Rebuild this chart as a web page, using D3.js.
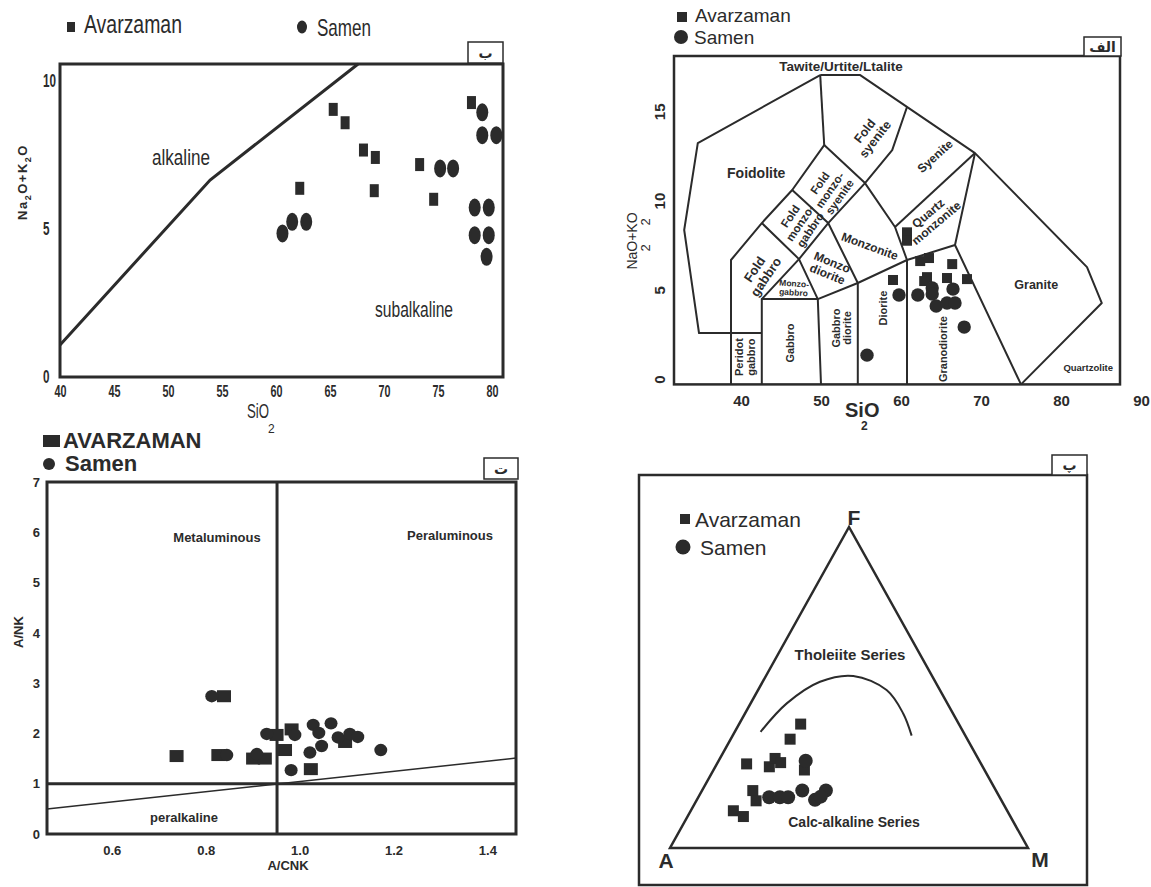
<!DOCTYPE html>
<html>
<head>
<meta charset="utf-8">
<script src="https://cdn.jsdelivr.net/npm/d3@7"></script>
<style>
  body { margin: 0; background: #fff; }
  svg { display: block; }
</style>
</head>
<body>
<div id="chart"></div>
<script>
// ---- (ب) Na2O+K2O vs SiO2, alkaline / subalkaline ----
const alkSiO2Ticks = [40, 45, 50, 55, 60, 65, 70, 75, 80];
const alkTotalTicks = [0, 5, 10];
const alkDivide = [[40, 1.08], [53.9, 6.64], [67.6, 10.55]];
const alkAvarzaman = [[65.3, 9.02], [66.4, 8.57], [68.1, 7.65], [69.2, 7.40], [69.1, 6.28],
  [62.2, 6.36], [73.3, 7.16], [74.6, 5.99], [78.1, 9.25]];
const alkSamen = [[60.6, 4.84], [61.5, 5.23], [62.8, 5.23], [75.2, 7.03], [76.4, 7.03],
  [79.1, 8.92], [79.1, 8.15], [80.4, 8.15], [78.4, 5.71], [79.7, 5.71],
  [78.4, 4.78], [79.7, 4.78], [79.5, 4.05]];

// ---- (الف) TAS plutonic (Middlemost) ----
const tasSiO2Ticks = [40, 50, 60, 70, 80, 90];
const tasTotalTicks = [0, 5, 10, 15];
// field boundaries, each one a polyline of [SiO2, Na2O+K2O]
const tasFields = [
  [[49.9, 17.03], [54.9, 17.03], [69.25, 12.66], [83.25, 6.27], [85.1, 4.26], [75.0, -0.3]],
  [[49.9, 17.03], [34.6, 13.22], [32.9, 8.35], [34.75, 2.58], [38.75, 2.58], [42.6, 2.58]],
  [[50.4, 13.11], [49.9, 17.03]],
  [[38.75, -0.3], [38.75, 2.58], [38.75, 6.67], [42.6, 8.74], [46.4, 10.59], [50.4, 13.11]],
  [[42.6, -0.3], [42.6, 2.58], [42.6, 4.48], [49.6, 4.48], [50.0, -0.3]],
  [[42.6, 8.74], [47.25, 6.72], [49.6, 4.48]],
  [[42.6, 4.48], [47.25, 6.72], [50.9, 8.74]],
  [[46.4, 10.59], [50.9, 8.74], [54.6, 5.38], [54.6, -0.3]],
  [[49.6, 4.48], [54.6, 5.38]],
  [[50.4, 13.11], [55.5, 10.98], [50.9, 8.74]],
  [[60.75, 15.24], [58.9, 12.83], [55.5, 10.98], [59.25, 8.52], [60.75, 6.67], [60.75, -0.3]],
  [[54.6, 5.38], [60.75, 6.67], [66.75, 7.51]],
  [[59.25, 8.52], [69.25, 12.66]],
  [[69.25, 12.66], [66.75, 7.51], [75.0, -0.3]]
];
const tasNames = [
  { lines: ["Tawite/Urtite/Ltalite"], at: [52.5, 17.53], angle: 0, size: 13.5 },
  { lines: ["Foidolite"], at: [41.9, 11.54], angle: 0, size: 14 },
  { lines: ["Fold", "syenite"], at: [56.1, 13.67], angle: -52, size: 12.5 },
  { lines: ["Syenite"], at: [64.25, 12.49], angle: -42, size: 12 },
  { lines: ["Fold", "monzo-", "syenite"], at: [51.1, 10.59], angle: -55, size: 11.5 },
  { lines: ["Fold", "monzo-", "gabbro"], at: [47.4, 8.74], angle: -56, size: 11.5 },
  { lines: ["Fold", "gabbro"], at: [42.4, 5.94], angle: -56, size: 13 },
  { lines: ["Monzo", "diorite"], at: [51.1, 6.22], angle: 22, size: 12 },
  { lines: ["Monzo-", "gabbro"], at: [46.6, 5.10], angle: 4, size: 8.5 },
  { lines: ["Monzonite"], at: [56.1, 7.45], angle: 20, size: 12 },
  { lines: ["Quartz", "monzonite"], at: [63.9, 9.02], angle: -40, size: 12 },
  { lines: ["Gabbro"], at: [46.1, 2.02], angle: -90, size: 11 },
  { lines: ["Peridot", "gabbro"], at: [40.5, 1.23], angle: -90, size: 11 },
  { lines: ["Gabbro", "diorite"], at: [52.6, 2.86], angle: -90, size: 11 },
  { lines: ["Diorite"], at: [57.75, 3.98], angle: -90, size: 11 },
  { lines: ["Granodiorite"], at: [65.25, 1.68], angle: -90, size: 11 },
  { lines: ["Granite"], at: [76.9, 5.27], angle: 0, size: 12.5 },
  { lines: ["Quartzolite"], at: [83.4, 0.62], angle: 0, size: 9.5 }
];
const tasAvarzaman = [[60.75, 8.22], [60.75, 7.75], [62.4, 6.61], [63.5, 6.78], [66.4, 6.44],
  [59.0, 5.55], [63.25, 5.71], [62.9, 5.49], [65.75, 5.66], [68.25, 5.60]];
const tasSamen = [[59.75, 4.71], [62.1, 4.71], [63.9, 5.10], [63.9, 4.76], [64.4, 4.09],
  [65.75, 4.26], [66.75, 4.26], [66.5, 5.04], [67.9, 2.91], [55.75, 1.34]];

// ---- (ت) Shand index, A/NK vs A/CNK ----
const shandCnkTicks = [0.6, 0.8, 1.0, 1.2, 1.4];
const shandNkTicks = [0, 1, 2, 3, 4, 5, 6, 7];
const shandMetaPer = 0.952;
const shandPeralk = [[0.462, 0.497], [1.461, 1.51]];
const shandAvarzaman = [[0.738, 1.55], [0.827, 1.57], [0.839, 2.74], [0.901, 1.50], [0.926, 1.50],
  [0.951, 1.97], [0.983, 2.08], [0.969, 1.67], [1.024, 1.29], [1.097, 1.83]];
const shandSamen = [[0.813, 2.74], [0.845, 1.57], [0.909, 1.59], [0.930, 1.99], [0.990, 1.97],
  [0.982, 1.27], [1.029, 2.17], [1.041, 2.01], [1.067, 2.20], [1.047, 1.75], [1.022, 1.62],
  [1.082, 1.92], [1.107, 1.99], [1.124, 1.93], [1.173, 1.67]];

// ---- (پ) AFM, values are [A, F, M] percent ----
const afmCorners = [[100, 0, 0], [0, 0, 100], [0, 100, 0]];
const afmDivide = [[56.6, 36.2, 7.2], [44.9, 45.1, 10.1], [32.2, 51.8, 16.0], [22.0, 53.6, 24.4],
  [14.9, 49.2, 35.9], [13.9, 42.0, 44.1], [15.0, 35.0, 50.0]];
const afmAvarzaman = [[44.2, 38.6, 17.2], [49.5, 33.9, 16.6], [65.5, 26.2, 8.3], [59.6, 25.3, 15.1],
  [56.7, 27.9, 15.4], [55.8, 26.6, 17.6], [50.3, 24.3, 25.4], [68.0, 17.9, 14.2],
  [68.6, 14.7, 16.7], [76.5, 11.6, 11.9], [74.6, 9.8, 15.6]];
const afmSamen = [[48.5, 27.2, 24.3], [64.4, 15.8, 19.8], [61.4, 15.8, 22.8], [59.1, 15.8, 25.1],
  [54.1, 17.9, 28.0], [52.0, 15.0, 33.0], [47.5, 17.9, 34.6], [49.9, 16.0, 34.1]];

const INK = "#2b2b2b";
const ARIAL = "'Liberation Sans', Arial, sans-serif";

const svg = d3.select("#chart").append("svg").attr("width", 1151).attr("height", 887);

function axisText(sel, size, weight){
    sel.select(".domain").remove();
    sel.selectAll(".tick line").remove();
    sel.selectAll("text").attr("fill", INK)
        .style("font-size", size + "px").style("font-family", ARIAL).style("font-weight", weight);
}

// the left-top panel uses a condensed face: squeeze glyphs to the wanted width
function squeeze(sel, width){
    sel.attr("textLength", width).attr("lengthAdjust", "spacingAndGlyphs");
}

function squares(g, pts, px, py, w, h){
    g.selectAll(null).data(pts).enter().append("rect")
        .attr("x", d => px(d) - w/2).attr("y", d => py(d) - h/2)
        .attr("width", w).attr("height", h).attr("fill", INK);
}

function dots(g, pts, px, py, rx, ry){
    g.selectAll(null).data(pts).enter().append("ellipse")
        .attr("cx", px).attr("cy", py).attr("rx", rx).attr("ry", ry).attr("fill", INK);
}

function label(g, lines, cx, cy, o){
    let size = o.size || 11;
    let t = g.append("text")
        .attr("transform", "translate(" + cx + "," + cy + ") rotate(" + (o.angle || 0) + ")")
        .attr("text-anchor", o.anchor || "middle")
        .attr("fill", INK)
        .style("font-family", ARIAL)
        .style("font-weight", o.weight || "bold")
        .style("font-size", size + "px");
    lines.forEach((s, i) => t.append("tspan").attr("x", 0)
        .attr("y", (i - (lines.length - 1)/2) * size * 1.05).attr("dy", o.dy === undefined ? "0.35em" : o.dy).text(s));
    return t;
}

// small boxed panel letter above the top-right corner
function tag(g, x0, y0, x1, y1, txt){
    g.append("rect").attr("x", x0).attr("y", y0).attr("width", x1 - x0).attr("height", y1 - y0)
        .attr("fill", "#fff").attr("stroke", INK).attr("stroke-width", 1.5);
    g.append("text").attr("x", (x0 + x1)/2).attr("y", (y0 + y1)/2 + 5)
        .attr("text-anchor", "middle").attr("fill", INK)
        .style("font-family", "'DejaVu Sans', sans-serif").style("font-weight", "bold")
        .style("font-size", "14px").text(txt);
}

function frame(g, x, y, sw){
    g.append("rect")
        .attr("x", x.range()[0]).attr("y", y.range()[1])
        .attr("width", x.range()[1] - x.range()[0]).attr("height", y.range()[0] - y.range()[1])
        .attr("fill", "none").attr("stroke", INK).attr("stroke-width", sw);
}

function drawAlkali(){
    let g = svg.append("g");
    let x = d3.scaleLinear().domain([40, 81.02]).range([60, 503]);
    let y = d3.scaleLinear().domain([0, 10.55]).range([377, 64]);

    g.append("g").attr("transform", "translate(0,377)")
        .call(d3.axisBottom(x).tickValues(alkSiO2Ticks).tickSize(0).tickPadding(8))
        .call(axisText, 17, "bold")
        .selectAll("text").call(squeeze, 12);
    g.append("g").attr("transform", "translate(60,0)")
        .call(d3.axisLeft(y).tickValues(alkTotalTicks).tickSize(0))
        .call(axisText, 18, "bold")
        .selectAll("text").attr("text-anchor", "start").attr("x", -17)
        .attr("textLength", d => String(d).length * 6.5).attr("lengthAdjust", "spacingAndGlyphs");

    g.append("path").datum(alkDivide)
        .attr("d", d3.line().x(d => x(d[0])).y(d => y(d[1])))
        .attr("fill", "none").attr("stroke", INK).attr("stroke-width", 3);
    frame(g, x, y, 3);

    squares(g, alkAvarzaman, d => x(d[0]), d => y(d[1]), 9, 13);
    dots(g, alkSamen, d => x(d[0]), d => y(d[1]), 6, 9);

    label(g, ["alkaline"], 181, 165, {weight: "normal", size: 22, dy: 0}).call(squeeze, 58);
    label(g, ["subalkaline"], 414, 317, {weight: "normal", size: 22, dy: 0}).call(squeeze, 78);

    // axis titles
    let yt = g.append("text").attr("transform", "translate(27,182) rotate(-90)")
        .attr("text-anchor", "middle").attr("fill", INK)
        .style("font-family", ARIAL).style("font-weight", "bold").style("font-size", "13px")
        .style("letter-spacing", "1.5px");
    yt.append("tspan").text("Na");
    yt.append("tspan").attr("dy", 4).style("font-size", "9px").text("2");
    yt.append("tspan").attr("dy", -4).text("O+K");
    yt.append("tspan").attr("dy", 4).style("font-size", "9px").text("2");
    yt.append("tspan").attr("dy", -4).text("O");

    let xt = g.append("text").attr("x", 247).attr("y", 418).attr("fill", INK)
        .style("font-family", ARIAL).style("font-size", "20px");
    xt.append("tspan").text("SiO").call(squeeze, 22);
    xt.append("tspan").attr("x", 268).attr("dy", 15).style("font-size", "12px").text("2");

    // legend
    g.append("rect").attr("x", 67).attr("y", 22).attr("width", 8).attr("height", 10).attr("fill", INK);
    g.append("text").attr("x", 84).attr("y", 33).attr("fill", INK)
        .style("font-family", ARIAL).style("font-size", "25px").text("Avarzaman").call(squeeze, 98);
    g.append("ellipse").attr("cx", 302).attr("cy", 27).attr("rx", 5).attr("ry", 6.5).attr("fill", INK);
    g.append("text").attr("x", 317).attr("y", 36).attr("fill", INK)
        .style("font-family", ARIAL).style("font-size", "24px").text("Samen").call(squeeze, 54);

    tag(g, 468, 42, 503, 63, "ب");
}

function drawTas(){
    let g = svg.append("g");
    let x = d3.scaleLinear().domain([31.625, 87.375]).range([674, 1120]);
    let y = d3.scaleLinear().domain([-0.3, 18.1]).range([384.4, 56]);

    g.append("g").attr("transform", "translate(0,384.4)")
        .call(d3.axisBottom(x).tickValues(tasSiO2Ticks).tickSize(0).tickPadding(11))
        .call(axisText, 15, "bold");
    g.append("g").attr("transform", "translate(674,0)")
        .call(d3.axisLeft(y).tickValues(tasTotalTicks).tickSize(0))
        .call(axisText, 15, "bold")
        .selectAll("text").attr("transform", "rotate(-90)")
        .attr("x", 0).attr("y", -9).attr("dy", 0).attr("text-anchor", "middle");

    let line = d3.line().x(d => x(d[0])).y(d => y(d[1]));
    g.selectAll(null).data(tasFields).enter().append("path")
        .attr("d", line).attr("fill", "none")
        .attr("stroke", INK).attr("stroke-width", 2).attr("stroke-linejoin", "round");
    frame(g, x, y, 2.5);

    tasNames.forEach(n => label(g, n.lines, x(n.at[0]), y(n.at[1]), {angle: n.angle, size: n.size}));

    squares(g, tasAvarzaman, d => x(d[0]), d => y(d[1]), 10, 10);
    dots(g, tasSamen, d => x(d[0]), d => y(d[1]), 6.7, 6.7);

    // axis titles
    let xt = g.append("text").attr("x", 845).attr("y", 417).attr("fill", INK)
        .style("font-family", ARIAL).style("font-weight", "bold").style("font-size", "20px");
    xt.append("tspan").text("SiO");
    xt.append("tspan").attr("x", 861).attr("dy", 13).style("font-size", "12px").text("2");

    label(g, ["NaO+KO"], 637, 241, {angle: -90, size: 14, weight: "normal", dy: 0});
    label(g, ["2"], 650, 248, {angle: -90, size: 13, weight: "normal", dy: 0});
    label(g, ["2"], 650, 222, {angle: -90, size: 13, weight: "normal", dy: 0});

    // legend
    g.append("rect").attr("x", 677).attr("y", 12).attr("width", 10).attr("height", 10).attr("fill", INK);
    g.append("text").attr("x", 695).attr("y", 22).attr("fill", INK)
        .style("font-family", ARIAL).style("font-size", "19px").text("Avarzaman");
    g.append("circle").attr("cx", 681).attr("cy", 37).attr("r", 7).attr("fill", INK);
    g.append("text").attr("x", 694).attr("y", 44).attr("fill", INK)
        .style("font-family", ARIAL).style("font-size", "19px").text("Samen");

    tag(g, 1084, 37, 1121, 56, "الف");
}

function drawShand(){
    let g = svg.append("g");
    let x = d3.scaleLinear().domain([0.462, 1.461]).range([47, 516]);
    let y = d3.scaleLinear().domain([0, 7]).range([834, 482]);

    g.append("g").attr("transform", "translate(0,834)")
        .call(d3.axisBottom(x).tickValues(shandCnkTicks).tickFormat(d3.format(".1f")).tickSize(0).tickPadding(12))
        .call(axisText, 13, "bold");
    g.append("g").attr("transform", "translate(47,0)")
        .call(d3.axisLeft(y).tickValues(shandNkTicks).tickFormat(d3.format("d")).tickSize(0).tickPadding(7))
        .call(axisText, 13, "bold");

    let line = d3.line().x(d => x(d[0])).y(d => y(d[1]));
    g.append("path").datum(shandPeralk).attr("d", line)
        .attr("fill", "none").attr("stroke", INK).attr("stroke-width", 1.5);
    g.append("path").datum([[x.domain()[0], 1], [x.domain()[1], 1]]).attr("d", line)
        .attr("fill", "none").attr("stroke", INK).attr("stroke-width", 3);
    g.append("path").datum([[shandMetaPer, 0], [shandMetaPer, 7]]).attr("d", line)
        .attr("fill", "none").attr("stroke", INK).attr("stroke-width", 3);
    frame(g, x, y, 3);

    squares(g, shandAvarzaman, d => x(d[0]), d => y(d[1]), 14, 12);
    dots(g, shandSamen, d => x(d[0]), d => y(d[1]), 6.5, 6.2);

    label(g, ["Metaluminous"], 217, 542, {size: 13, dy: 0});
    label(g, ["Peraluminous"], 450, 540, {size: 13, dy: 0});
    label(g, ["peralkaline"], 184, 822, {size: 13, dy: 0});
    label(g, ["A/CNK"], 288, 870, {size: 13, dy: 0});
    label(g, ["A/NK"], 23, 632, {size: 13, angle: -90, dy: 0});

    // legend
    g.append("rect").attr("x", 43).attr("y", 435).attr("width", 17).attr("height", 12).attr("fill", INK);
    g.append("text").attr("x", 63).attr("y", 448).attr("fill", INK)
        .style("font-family", ARIAL).style("font-weight", "bold").style("font-size", "22px").text("AVARZAMAN");
    g.append("circle").attr("cx", 49).attr("cy", 464).attr("r", 6).attr("fill", INK);
    g.append("text").attr("x", 65).attr("y", 471).attr("fill", INK)
        .style("font-family", ARIAL).style("font-weight", "bold").style("font-size", "22px").text("Samen");

    tag(g, 484, 458, 518, 479, "ت");
}

function drawAfm(){
    let g = svg.append("g");
    // A bottom-left, M bottom-right, F at the apex
    let fy = d3.scaleLinear().domain([0, 100]).range([848, 527]);
    let mx = d3.scaleLinear().domain([0, 100]).range([670, 1028]);
    let fx = d3.scaleLinear().domain([0, 100]).range([0, 179]);
    let pct = (d, i) => 100 * d[i] / (d[0] + d[1] + d[2]);
    let px = d => mx(pct(d, 2)) + fx(pct(d, 1));
    let py = d => fy(pct(d, 1));

    g.append("rect").attr("x", 639).attr("y", 475).attr("width", 448).attr("height", 410)
        .attr("fill", "none").attr("stroke", INK).attr("stroke-width", 2.5);

    g.append("path")
        .attr("d", d3.line().x(px).y(py)(afmCorners) + "Z")
        .attr("fill", "none").attr("stroke", INK).attr("stroke-width", 2.5);
    g.append("path").datum(afmDivide)
        .attr("d", d3.line().x(px).y(py).curve(d3.curveCatmullRom))
        .attr("fill", "none").attr("stroke", INK).attr("stroke-width", 2);

    squares(g, afmAvarzaman, px, py, 11, 11);
    dots(g, afmSamen, px, py, 7, 7);

    label(g, ["F"], 854, 525, {size: 21, dy: 0});
    label(g, ["A"], 666, 868, {size: 21, dy: 0});
    label(g, ["M"], 1040, 867, {size: 21, dy: 0});
    label(g, ["Tholeiite Series"], 850, 660, {size: 15, dy: 0});
    label(g, ["Calc-alkaline Series"], 854, 827, {size: 14, dy: 0});

    // legend
    g.append("rect").attr("x", 680).attr("y", 514).attr("width", 10).attr("height", 10).attr("fill", INK);
    g.append("text").attr("x", 695).attr("y", 527).attr("fill", INK)
        .style("font-family", ARIAL).style("font-size", "21px").text("Avarzaman");
    g.append("circle").attr("cx", 683).attr("cy", 547).attr("r", 7.5).attr("fill", INK);
    g.append("text").attr("x", 700).attr("y", 555).attr("fill", INK)
        .style("font-family", ARIAL).style("font-size", "21px").text("Samen");

    tag(g, 1052, 455, 1087, 475, "پ");
}

drawAlkali();
drawTas();
drawShand();
drawAfm();
</script>
</body>
</html>
